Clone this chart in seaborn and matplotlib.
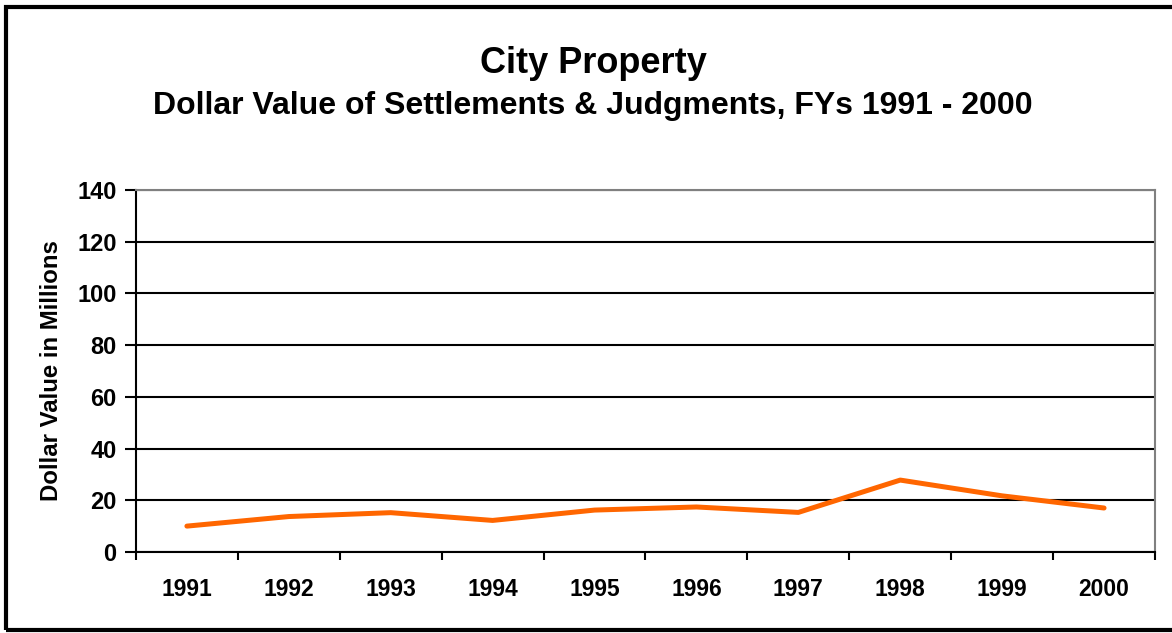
import matplotlib
matplotlib.use('Agg')
import matplotlib.pyplot as plt
import matplotlib.patches as patches
import seaborn as sns
import pandas as pd

years = ['1991', '1992', '1993', '1994', '1995', '1996', '1997', '1998', '1999', '2000']
values = [10.0, 13.7, 15.2, 12.2, 16.2, 17.4, 15.3, 27.8, 21.7, 17.0]
y_ticks = [0, 20, 40, 60, 80, 100, 120, 140]

df = pd.DataFrame({'year': years, 'value': values})

sns.set_style('white')
plt.rcParams['font.family'] = ['Liberation Sans', 'DejaVu Sans']
plt.rcParams['font.weight'] = 'bold'
plt.rcParams['text.color'] = 'black'
plt.rcParams['axes.labelcolor'] = 'black'
plt.rcParams['xtick.color'] = 'black'
plt.rcParams['ytick.color'] = 'black'
plt.rcParams['xtick.bottom'] = True
plt.rcParams['ytick.left'] = True

fig = plt.figure(figsize=(11.72, 6.33), dpi=100)
ax = fig.add_axes([0.116, 0.128, 0.8695, 0.572])

sns.lineplot(data=df, x='year', y='value', color='#FF6600', linewidth=3.6, sort=False, ax=ax)

ax.set_xlim(-0.5, len(years) - 0.5)
ax.set_ylim(0, 140)
ax.set_yticks(y_ticks)
ax.yaxis.grid(True, color='black', linewidth=1.5)
ax.set_axisbelow(True)

# category ticks between labels
ax.set_xticks(range(len(years)))
ax.set_xticklabels(years, fontsize=16.5, fontweight='bold')
ax.tick_params(axis='x', which='major', length=0, pad=19)
ax.set_xticks([i - 0.5 for i in range(len(years) + 1)], minor=True)
ax.tick_params(axis='x', which='minor', bottom=True, length=6, width=1.5, color='black', direction='out')
ax.tick_params(axis='y', left=True, length=8, width=1.5, color='black', direction='out', labelsize=17, pad=6)
for lbl in ax.get_yticklabels():
    lbl.set_fontweight('bold')

for side in ['left', 'bottom']:
    ax.spines[side].set_color('black')
    ax.spines[side].set_linewidth(1.5)
for side in ['top', 'right']:
    ax.spines[side].set_color('#808080')
    ax.spines[side].set_linewidth(1.5)

ax.set_xlabel('')
ax.set_ylabel('Dollar Value in Millions', fontsize=17.3, fontweight='bold', labelpad=10)

fig.text(0.506, 0.899, 'City Property', ha='center', va='center', fontsize=26, fontweight='bold')
fig.text(0.506, 0.833, 'Dollar Value of Settlements & Judgments, FYs 1991 - 2000',
         ha='center', va='center', fontsize=23, fontweight='bold')

fig.patches.append(patches.Rectangle((0.0055, 0.0045), 1.1, 0.984, transform=fig.transFigure,
                                     fill=False, edgecolor='black', linewidth=3))

fig.savefig('out.png', dpi=100)
